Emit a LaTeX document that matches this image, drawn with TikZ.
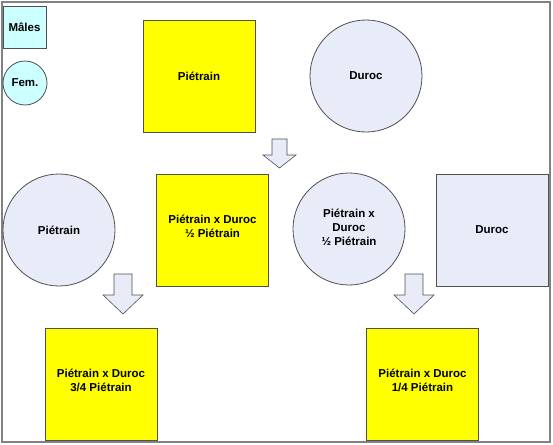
\documentclass[tikz,border=0pt]{standalone}
\usepackage{fontspec}
\setmainfont{Liberation Sans}
\definecolor{lav}{RGB}{232,235,248}
\definecolor{cyanb}{RGB}{204,255,255}
\definecolor{yel}{RGB}{255,255,0}
\definecolor{outl}{RGB}{80,80,80}
\definecolor{framec}{RGB}{130,130,130}
\newcommand\blockarrow[7]{% name, cx, top, shoulder, tip, half shaft, half head
  \draw[barrow] (#2-#6,#3) -- (#2+#6,#3) -- (#2+#6,#4) -- (#2+#7,#4) -- (#2,#5)
    -- (#2-#7,#4) -- (#2-#6,#4) -- cycle;
  \coordinate (#1) at (#2,#3);}
\begin{document}
\begin{tikzpicture}[x=1pt,y=-1pt,
  every node/.style={font=\bfseries\fontsize{11.5}{14}\selectfont, align=center, text=black, inner sep=0pt},
  yelbox/.style={draw=outl, line width=0.8pt, fill=yel, minimum width=112pt, minimum height=112pt},
  lavbox/.style={draw=outl, line width=0.8pt, fill=lav, minimum width=112pt, minimum height=112pt},
  lavcirc/.style={circle, draw=outl, line width=0.8pt, fill=lav, minimum size=112pt},
  uptext/.style={label={[yshift=3.5pt]center:{#1}}},
  barrow/.style={draw=outl, line width=0.6pt, fill=lav},
  framest/.style={draw=framec, line width=1.5pt}]
\useasboundingbox (0,0) rectangle (553,444);
\path[framest] (2,2) rectangle (550,442);
% legend
\node[draw=outl, line width=0.8pt, fill=cyanb, minimum width=43pt, minimum height=42pt] (males) at (24.5,27) {Mâles};
\node[circle, draw=outl, line width=0.8pt, fill=cyanb, minimum size=44pt] (fem) at (25,83) {Fem.};
% top row
\node[yelbox] (p1) at (199,76.5) {Piétrain};
\node[lavcirc] (d1) at (366,76) {Duroc};
\blockarrow{a1}{279.5}{139}{155}{168}{7.5}{16.5}
% middle row
\node[lavcirc] (p2) at (59,230) {Piétrain};
\node[yelbox, uptext={Piétrain x Duroc\\½ Piétrain}] (pd1) at (212.5,230) {};
\node[lavcirc, label={[yshift=2pt]center:{Piétrain x\\Duroc\\½ Piétrain}}] (pd2) at (349,229) {};
\node[lavbox] (d2) at (492,230) {Duroc};
\blockarrow{a2}{123}{274}{295}{314}{9}{20}
\blockarrow{a3}{414}{274}{295}{314}{9}{20}
% bottom row
\node[yelbox, uptext={Piétrain x Duroc\\3/4 Piétrain}] (r1) at (101,384) {};
\node[yelbox, uptext={Piétrain x Duroc\\1/4 Piétrain}] (r2) at (422.5,384) {};
\end{tikzpicture}
\end{document}
